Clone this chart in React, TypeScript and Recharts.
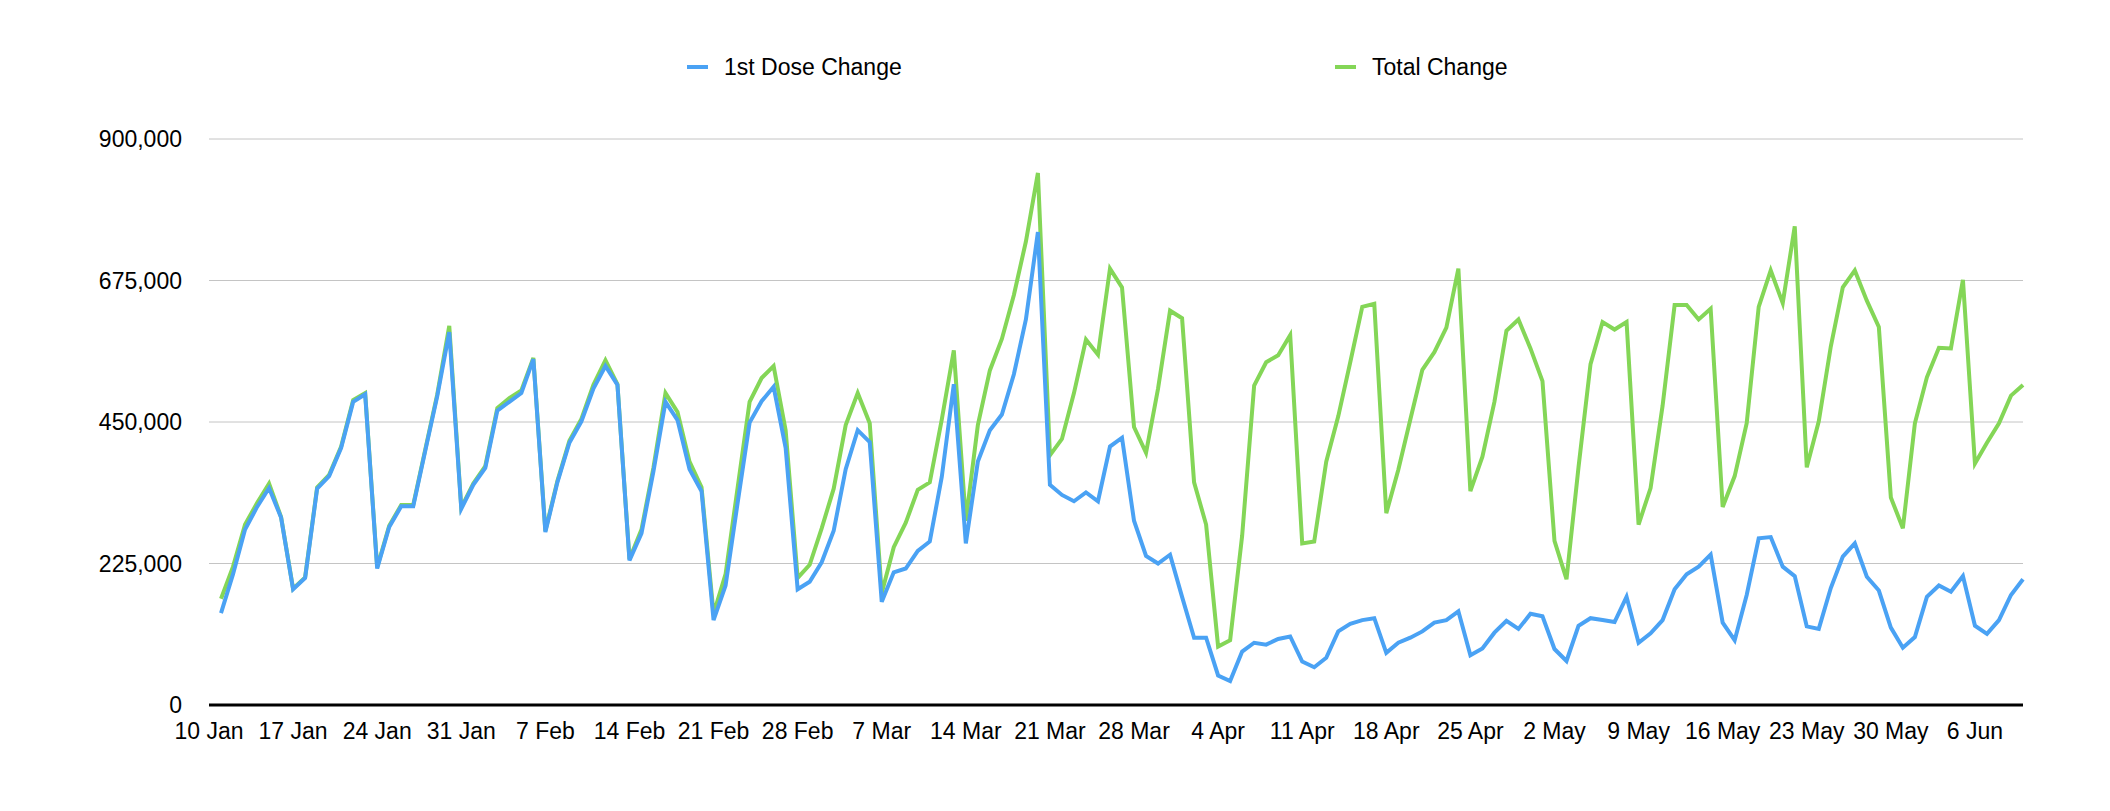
import { LineChart, Line, XAxis, YAxis, CartesianGrid, Legend } from 'recharts';

// daily values from 11 Jan to 10 Jun; day 0 on the axis is 10 Jan
const firstDose = [
  146000, 208000, 279000, 315000, 345000, 298000, 184000, 202000, 344000, 364000,
  409000, 482000, 494000, 217000, 283000, 316000, 316000, 404000, 491000, 593000,
  312000, 350000, 377000, 468000, 482000, 496000, 550000, 275000, 354000, 417000,
  451000, 503000, 539000, 509000, 230000, 273000, 372000, 482000, 453000, 375000,
  340000, 135000, 190000, 321000, 449000, 483000, 506000, 409000, 184000, 196000,
  227000, 277000, 375000, 437000, 418000, 164000, 211000, 217000, 245000, 260000,
  363000, 510000, 257000, 387000, 437000, 462000, 526000, 613000, 752000, 350000,
  334000, 324000, 338000, 324000, 411000, 425000, 293000, 237000, 225000, 239000,
  172000, 107000, 107000, 47000, 38000, 85000, 99000, 96000, 105000, 109000,
  69000, 60000, 75000, 117000, 129000, 135000, 138000, 83000, 99000, 107000,
  117000, 131000, 135000, 149000, 79000, 90000, 115000, 134000, 121000, 145000,
  141000, 89000, 70000, 126000, 138000, 135000, 132000, 172000, 99000, 114000,
  135000, 184000, 208000, 220000, 239000, 131000, 103000, 175000, 265000, 267000,
  220000, 205000, 125000, 121000, 186000, 236000, 257000, 204000, 182000, 123000,
  91000, 108000, 172000, 190000, 180000, 205000, 126000, 113000, 135000, 175000,
  200000,
];

const totalChange = [
  169000, 220000, 287000, 321000, 352000, 299000, 185000, 203000, 346000, 366000,
  411000, 485000, 496000, 219000, 285000, 318000, 318000, 406000, 494000, 603000,
  314000, 352000, 380000, 472000, 488000, 500000, 552000, 277000, 356000, 420000,
  455000, 509000, 548000, 510000, 232000, 279000, 378000, 496000, 466000, 387000,
  346000, 145000, 208000, 345000, 482000, 520000, 539000, 437000, 202000, 223000,
  281000, 344000, 445000, 496000, 448000, 178000, 251000, 290000, 342000, 354000,
  454000, 564000, 293000, 445000, 532000, 582000, 652000, 737000, 846000, 397000,
  423000, 496000, 581000, 557000, 694000, 664000, 442000, 401000, 503000, 627000,
  615000, 354000, 287000, 93000, 103000, 269000, 508000, 545000, 556000, 588000,
  257000, 260000, 387000, 459000, 545000, 633000, 638000, 305000, 374000, 454000,
  533000, 561000, 600000, 694000, 340000, 395000, 482000, 595000, 613000, 567000,
  515000, 261000, 200000, 378000, 542000, 609000, 597000, 609000, 287000, 345000,
  476000, 636000, 636000, 613000, 630000, 315000, 364000, 448000, 633000, 691000,
  639000, 761000, 378000, 451000, 570000, 664000, 691000, 643000, 601000, 330000,
  281000, 448000, 521000, 568000, 567000, 676000, 384000, 417000, 448000, 492000,
  509000,
];

const tickLabels = [
  '10 Jan', '17 Jan', '24 Jan', '31 Jan', '7 Feb', '14 Feb', '21 Feb', '28 Feb',
  '7 Mar', '14 Mar', '21 Mar', '28 Mar', '4 Apr', '11 Apr', '18 Apr', '25 Apr',
  '2 May', '9 May', '16 May', '23 May', '30 May', '6 Jun',
];

const yTicks = [0, 225000, 450000, 675000, 900000];

const BLUE = '#4aa2f4';
const GREEN = '#84d657';
const FONT = '"Liberation Sans", Arial, Helvetica, sans-serif';

const data = firstDose.map((v, i) => ({ day: i + 1, first: v, total: totalChange[i] }));

const LegendBox = () => (
  <div style={{ position: 'relative', height: 30, fontFamily: FONT, fontSize: 23, color: '#000' }}>
    {[
      { name: '1st Dose Change', color: BLUE, left: 679 },
      { name: 'Total Change', color: GREEN, left: 1327 },
    ].map((it) => (
      <div
        key={it.name}
        style={{ position: 'absolute', left: it.left, top: 0, height: 30, display: 'flex', alignItems: 'center', whiteSpace: 'nowrap' }}
      >
        <span style={{ display: 'inline-block', width: 21, height: 4, background: it.color, marginRight: 16 }} />
        <span style={{ lineHeight: '30px' }}>{it.name}</span>
      </div>
    ))}
  </div>
);

export default function App() {
  return (
    <div style={{ width: 2094, height: 795, background: '#fff' }}>
      <LineChart width={2094} height={795} data={data} margin={{ top: 131, right: 79, bottom: 38, left: 0 }}>
        <CartesianGrid vertical={false} stroke="#c4c4c4" strokeWidth={1} />
        <XAxis
          type="number"
          dataKey="day"
          domain={[0, 151]}
          ticks={tickLabels.map((_, i) => i * 7)}
          tickFormatter={(v: number) => tickLabels[v / 7]}
          interval={0}
          height={60}
          axisLine={{ stroke: '#000', strokeWidth: 3 }}
          tickLine={false}
          tickSize={0}
          tickMargin={18}
          tick={{ fill: '#000', fontSize: 23, fontFamily: FONT }}
        />
        <YAxis
          domain={[0, 900000]}
          ticks={yTicks}
          width={201}
          axisLine={false}
          tickLine={false}
          tickSize={0}
          tickMargin={27}
          tickFormatter={(v: number) => v.toLocaleString('en-US')}
          tick={{ fill: '#000', fontSize: 23, fontFamily: FONT }}
        />
        <Legend
          verticalAlign="middle"
          align="center"
          layout="horizontal"
          wrapperStyle={{ top: 44, left: 0, width: 2094 }}
          content={() => <LegendBox />}
        />
        <Line type="linear" dataKey="total" stroke={GREEN} strokeWidth={4} dot={false} isAnimationActive={false} />
        <Line type="linear" dataKey="first" stroke={BLUE} strokeWidth={4} dot={false} isAnimationActive={false} />
      </LineChart>
    </div>
  );
}
